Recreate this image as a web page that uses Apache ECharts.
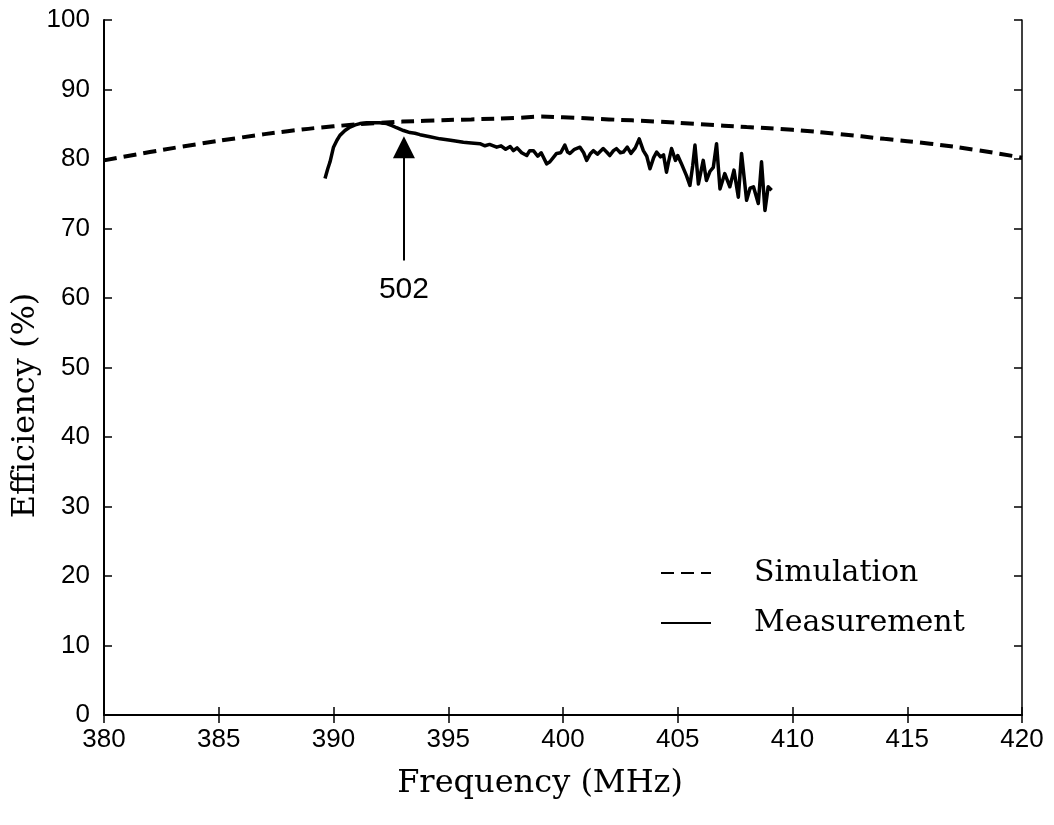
<!DOCTYPE html>
<html>
<head>
<meta charset="utf-8">
<title>Efficiency vs Frequency</title>
<script src="https://cdn.jsdelivr.net/npm/echarts@6/dist/echarts.min.js"></script>
<style>
	html, body { margin: 0; padding: 0; background: #fff; }
	#container { width: 1054px; height: 825px; }
</style>
</head>
<body>
<div id="container"></div>
<script>
// simulation curve (dashed)
var simFreq = [380, 382, 384, 386, 388, 390, 392, 394, 396, 398, 399, 400, 402, 404, 406, 408, 410, 412, 414, 416, 418, 420];
var simEff  = [79.8, 81.0, 82.1, 83.1, 84.0, 84.7, 85.2, 85.5, 85.7, 85.9, 86.1, 86.0, 85.7, 85.4, 85.0, 84.6, 84.2, 83.6, 82.9, 82.2, 81.3, 80.2];

// measured curve (solid, noisy)
var measFreq = [389.63, 389.75, 389.85, 390.0, 390.15, 390.28, 390.5, 390.72, 390.95, 391.15,
	391.45, 391.74, 392.0, 392.32, 392.55, 392.75, 393.05, 393.33, 393.55, 393.77,
	394.2, 394.64, 395.1, 395.66, 396.0, 396.38, 396.6, 396.8, 397.11, 397.3,
	397.5, 397.7, 397.84, 398.0, 398.2, 398.42, 398.55, 398.71, 398.9, 399.05,
	399.29, 399.43, 399.6, 399.72, 399.9, 400.08, 400.2, 400.3, 400.5, 400.74,
	400.9, 401.03, 401.2, 401.32, 401.5, 401.75, 401.9, 402.04, 402.2, 402.33,
	402.5, 402.63, 402.8, 402.96, 403.15, 403.32, 403.5, 403.65, 403.79, 403.95,
	404.08, 404.25, 404.38, 404.51, 404.6, 404.73, 404.9, 405.0, 405.15, 405.38,
	405.53, 405.65, 405.75, 405.9, 406.11, 406.25, 406.4, 406.55, 406.69, 406.84,
	407.05, 407.27, 407.45, 407.64, 407.78, 408.0, 408.15, 408.3, 408.51, 408.65,
	408.8, 408.94, 409.09];
var measEff = [77.2, 78.6, 79.6, 81.7, 82.7, 83.4, 84.1, 84.6, 84.9, 85.1,
	85.2, 85.2, 85.2, 85.1, 84.8, 84.5, 84.1, 83.8, 83.7, 83.5,
	83.2, 82.9, 82.7, 82.4, 82.3, 82.2, 81.9, 82.1, 81.7, 81.9,
	81.4, 81.8, 81.2, 81.6, 80.9, 80.5, 81.2, 81.2, 80.4, 80.9,
	79.3, 79.6, 80.3, 80.8, 80.9, 82.0, 81.0, 80.8, 81.4, 81.7,
	80.9, 79.8, 80.8, 81.2, 80.7, 81.5, 81.0, 80.5, 81.2, 81.5,
	80.9, 81.0, 81.7, 80.8, 81.6, 82.9, 81.2, 80.4, 78.6, 80.2,
	81.0, 80.3, 80.6, 78.1, 79.6, 81.5, 79.8, 80.5, 79.4, 77.6,
	76.2, 79.0, 82.0, 76.4, 79.8, 76.9, 78.2, 78.8, 82.2, 75.7,
	77.9, 76.0, 78.4, 74.5, 80.8, 74.05, 75.8, 76.0, 73.6, 79.6,
	72.6, 76.0, 75.5];

// annotation arrow "502"
var arrowFreq = 393.07;
var arrowFrom = 65.4;
var arrowTo = 81.7;
var arrowLabel = '502';

var seriesNames = ['Simulation', 'Measurement'];

function pairs(xs, ys)
{
	var out = [];
	for (var i = 0; i < xs.length; i++) {
		out.push([xs[i], ys[i]]);
	}
	return out;
}

var dom = document.getElementById("container");
var myChart = echarts.init(dom);
var option = null;

var tickFont = {
	color: '#000',
	fontSize: 26,
	fontFamily: 'Liberation Sans, Arial, sans-serif'
};

option = {
	backgroundColor: '#fff',
	animation: false,
	grid: {
		left: 104,
		right: 32,
		top: 20,
		bottom: 110,
		containLabel: false,
		outerBoundsMode: 'none'
	},
	legend: {
		data: seriesNames,
		orient: 'vertical',
		left: 655,
		top: 553,
		itemWidth: 50,
		itemHeight: 14,
		itemGap: 20,
		itemStyle: { opacity: 0 },
		textStyle: {
			color: '#000',
			fontSize: 30,
			fontFamily: 'DejaVu Serif, serif',
			padding: [0, 0, 0, 38]
		}
	},
	xAxis: [
		{
			type: 'value',
			min: 380,
			max: 420,
			interval: 5,
			name: 'Frequency (MHz)',
			nameLocation: 'middle',
			nameGap: 53,
			nameMoveOverlap: false,
			nameTextStyle: {
				color: '#000',
				fontSize: 32,
				fontFamily: 'DejaVu Serif, serif',
				padding: [0, 46, 0, 0]
			},
			axisLine: { show: true, lineStyle: { color: '#000', width: 2 } },
			axisTick: { show: true, inside: true, length: 8, lineStyle: { color: '#000', width: 1.5 } },
			axisLabel: { margin: 12, textStyle: tickFont },
			splitLine: { show: false }
		},
		{
			type: 'value',
			position: 'top',
			min: 380,
			max: 420,
			interval: 5,
			axisLine: { show: true, lineStyle: { color: '#000', width: 1.5 } },
			axisTick: { show: true, inside: true, length: 8, lineStyle: { color: '#000', width: 1.5 } },
			axisLabel: { show: false },
			splitLine: { show: false }
		}
	],
	yAxis: [
		{
			type: 'value',
			min: 0,
			max: 100,
			interval: 10,
			name: 'Efficiency (%)',
			nameLocation: 'middle',
			nameGap: 62,
			nameMoveOverlap: false,
			nameTextStyle: {
				color: '#000',
				fontSize: 32,
				fontFamily: 'DejaVu Serif, serif',
				padding: [0, 76, 0, 0]
			},
			axisLine: { show: true, lineStyle: { color: '#000', width: 2 } },
			axisTick: { show: true, inside: true, length: 8, lineStyle: { color: '#000', width: 1.5 } },
			axisLabel: { margin: 14, textStyle: tickFont },
			splitLine: { show: false }
		},
		{
			type: 'value',
			position: 'right',
			min: 0,
			max: 100,
			interval: 10,
			axisLine: { show: true, lineStyle: { color: '#000', width: 1.5 } },
			axisTick: { show: true, inside: true, length: 8, lineStyle: { color: '#000', width: 1.5 } },
			axisLabel: { show: false },
			splitLine: { show: false }
		}
	],
	series: [
		{
			name: seriesNames[0],
			type: 'line',
			xAxisIndex: 0,
			yAxisIndex: 0,
			showSymbol: false,
			symbol: 'none',
			smooth: true,
			data: pairs(simFreq, simEff),
			itemStyle: { color: '#000' },
			lineStyle: { color: '#000', width: 4, type: [13, 7] }
		},
		{
			name: seriesNames[1],
			type: 'line',
			xAxisIndex: 0,
			yAxisIndex: 0,
			showSymbol: false,
			symbol: 'none',
			data: pairs(measFreq, measEff),
			itemStyle: { color: '#000' },
			lineStyle: { color: '#000', width: 3.5, join: 'round' },
			markLine: {
				silent: true,
				symbol: ['none', 'triangle'],
				symbolSize: [22, 22],
				lineStyle: { color: '#000', width: 2, type: 'solid' },
				label: {
					show: true,
					position: 'start',
					distance: 14,
					formatter: arrowLabel,
					color: '#000',
					fontSize: 30,
					fontFamily: 'Liberation Sans, Arial, sans-serif'
				},
				data: [
					[
						{ coord: [arrowFreq, arrowFrom] },
						{ coord: [arrowFreq, arrowTo] }
					]
				]
			}
		}
	]
};

if (option && typeof option === "object") {
	myChart.setOption(option, true);
}
</script>
</body>
</html>
